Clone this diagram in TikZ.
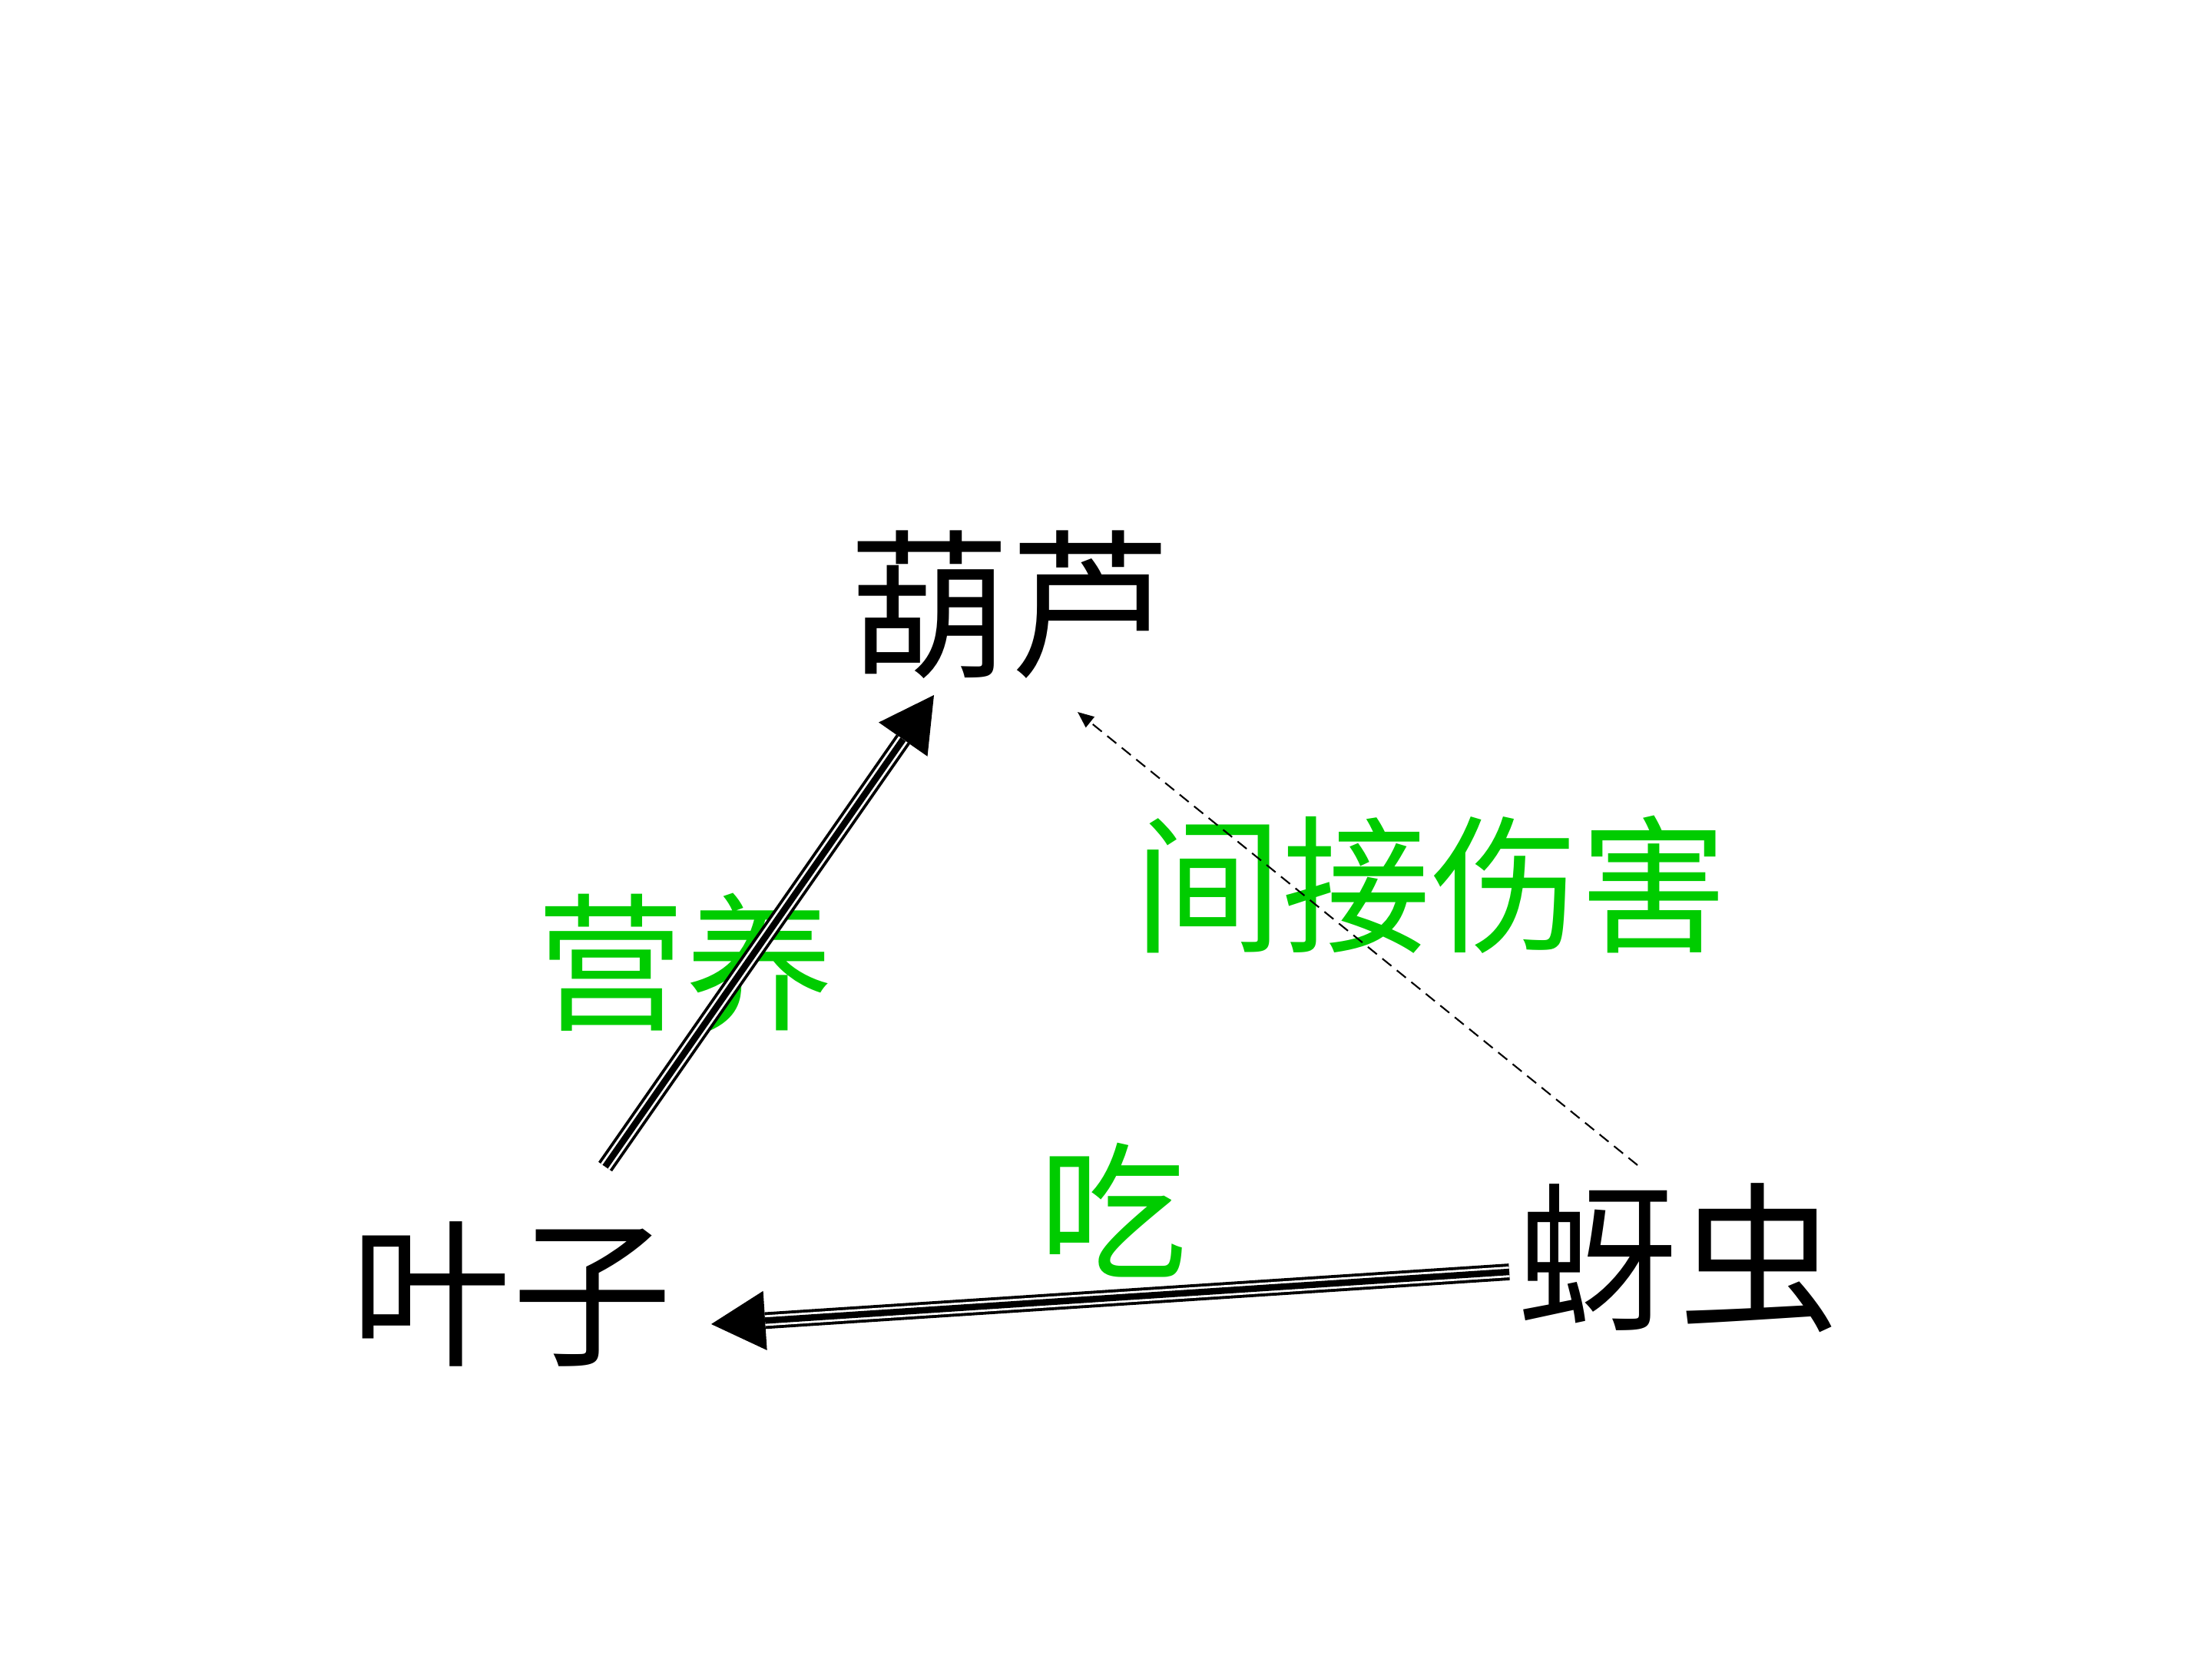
\documentclass[tikz,border=0pt]{standalone}
\usepackage{fontspec}
\usetikzlibrary{arrows.meta}
\newfontfamily\cjk{Noto Sans CJK SC}
\definecolor{lblgreen}{RGB}{0,204,0}
\tikzset{
  term/.style={inner sep=0pt, font=\cjk\fontsize{59.5pt}{62pt}\selectfont, text=black},
  lbl/.style={inner sep=0pt, font=\cjk\fontsize{55pt}{57pt}\selectfont, text=lblgreen},
  triple/.style={line width=6.2pt, -{Triangle[length=20pt,width=22pt,line width=0pt]},
    postaction={draw=white, line width=4.0pt, shorten >=20pt, -},
    postaction={draw=black, line width=2.4pt, shorten >=20pt, -}},
  hint/.style={dashed, dash pattern=on 4.3pt off 2.6pt, line width=0.6pt,
    -{Triangle[length=6pt,width=5pt]}}
}
\begin{document}
\begin{tikzpicture}
\useasboundingbox[fill=white] (0,0) rectangle (28.8,-21.6);
\node[term] (gourd) at (13.15,-7.87) {葫芦};
\node[term] (leaf)  at (6.66,-16.85) {叶子};
\node[term] (aphid) at (21.85,-16.38) {蚜虫};
\node[lbl] (nutr) at (8.92,-12.53) {营养};
\node[lbl] (harm) at (18.63,-11.52) {间接伤害};
\node[lbl] (eat)  at (14.49,-15.76) {吃};
\draw[triple] ([shift={(1.22,1.66)}]leaf.center) -- ([shift={(-0.99,-1.18)}]gourd.center);
\draw[triple] ([shift={(-2.20,-0.18)}]aphid.center) -- ([shift={(2.60,-0.39)}]leaf.center);
\draw[hint] ([shift={(-0.53,1.21)}]aphid.center) -- ([shift={(0.88,-1.40)}]gourd.center);
\end{tikzpicture}
\end{document}
